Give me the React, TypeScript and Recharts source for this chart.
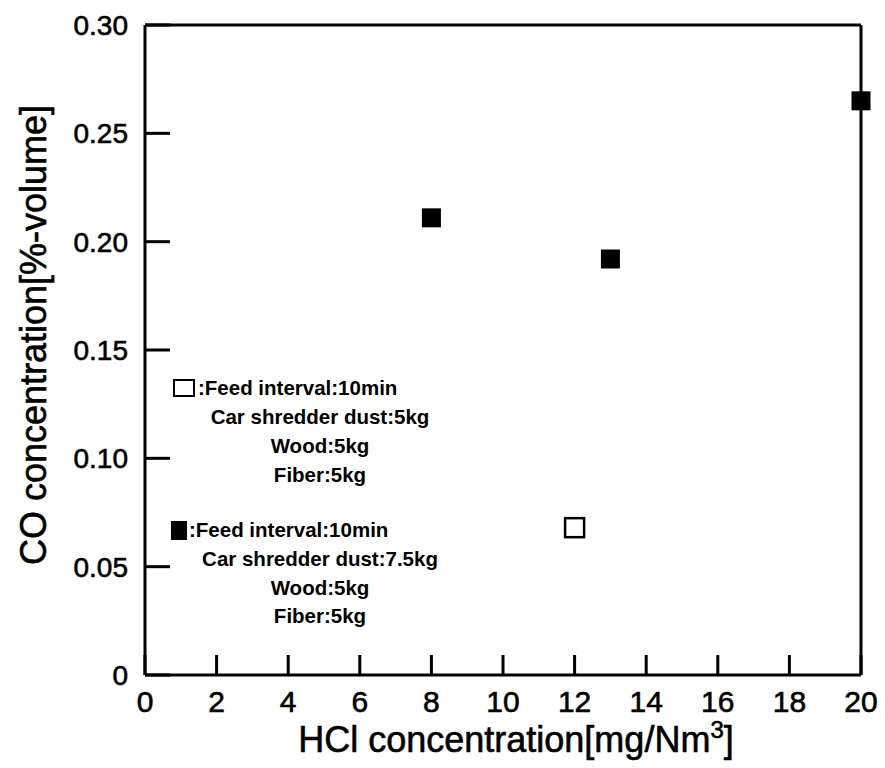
import React from "react";
import { ScatterChart, Scatter, XAxis, YAxis, Legend } from "recharts";

const xTicks = [0, 2, 4, 6, 8, 10, 12, 14, 16, 18, 20];
const yTicks = [0, 0.05, 0.1, 0.15, 0.2, 0.25, 0.3];
const yTickLabels = ["0", "0.05", "0.10", "0.15", "0.20", "0.25", "0.30"];

const openHcl = [12];
const openCo = [0.068];
const filledHcl = [8, 13, 20];
const filledCo = [0.211, 0.192, 0.265];

const openData = openHcl.map((x, i) => ({ x, y: openCo[i] }));
const filledData = filledHcl.map((x, i) => ({ x, y: filledCo[i] }));

const legendOpen = [":Feed interval:10min", "Car shredder dust:5kg", "Wood:5kg", "Fiber:5kg"];
const legendFilled = [":Feed interval:10min", "Car shredder dust:7.5kg", "Wood:5kg", "Fiber:5kg"];

const FONT = '"Liberation Sans", Arial, Helvetica, sans-serif';
const TICK_LINE = { stroke: "#000", strokeWidth: 3 };

const OpenSquare = (props: any) => {
  const { cx, cy } = props;
  const s = 19;
  return <rect x={cx - s / 2} y={cy - s / 2} width={s} height={s} fill="#fff" stroke="#000" strokeWidth={2.5} />;
};

const FilledSquare = (props: any) => {
  const { cx, cy } = props;
  const s = 19;
  return <rect x={cx - s / 2} y={cy - s / 2} width={s} height={s} fill="#000" stroke="none" />;
};

const XTick = (props: any) => {
  const { x, y, payload } = props;
  return (
    <text x={x} y={y} dy="0.71em" textAnchor="middle" fontSize={30} fontFamily={FONT} fill="#000" stroke="#000" strokeWidth={0.6}>
      {payload.value}
    </text>
  );
};

const YTick = (props: any) => {
  const { x, y, payload } = props;
  const idx = yTicks.indexOf(payload.value);
  return (
    <text x={x} y={y} dy="0.36em" textAnchor="end" fontSize={28} fontFamily={FONT} fill="#000" stroke="#000" strokeWidth={0.6}>
      {idx >= 0 ? yTickLabels[idx] : String(payload.value)}
    </text>
  );
};

const XLabel = (props: any) => {
  const vb = props.viewBox || { x: 0, y: 0, width: 0, height: 0 };
  return (
    <text x={vb.x + vb.width / 2 + 13} y={vb.y + 77} textAnchor="middle" fontSize={36} fontFamily={FONT} fill="#000" stroke="#000" strokeWidth={0.6}>
      HCl concentration[mg/Nm
      <tspan dy={-14} fontSize={24}>3</tspan>
      <tspan dy={14}>]</tspan>
    </text>
  );
};

const YLabel = (props: any) => {
  const vb = props.viewBox || { x: 0, y: 0, width: 0, height: 0 };
  const cx = 33;
  const cy = vb.y + vb.height / 2 - 15;
  return (
    <text x={cx} y={cy} transform={`rotate(-90, ${cx}, ${cy})`} textAnchor="middle" dy="0.36em" fontSize={36} fontFamily={FONT} fill="#000" stroke="#000" strokeWidth={0.6}>
      CO concentration[%-volume]
    </text>
  );
};

const lineStyle: React.CSSProperties = { height: 29, lineHeight: "29px", whiteSpace: "nowrap" };

const LegendBlock = ({ lines, filled, top }: { lines: string[]; filled: boolean; top: number }) => (
  <div style={{ position: "absolute", left: 0, top, width: 500 }}>
    <div style={{ ...lineStyle, position: "relative" }}>
      <span
        style={{
          position: "absolute",
          left: filled ? 171 : 173,
          top: 6,
          width: filled ? 16 : 22,
          height: filled ? 19 : 18,
          boxSizing: "border-box",
          background: filled ? "#000" : "#fff",
          border: filled ? "none" : "2px solid #000",
        }}
      />
      <span style={{ position: "absolute", left: filled ? 189 : 198 }}>{lines[0]}</span>
    </div>
    {lines.slice(1).map((t, i) => (
      <div key={i} style={{ ...lineStyle, position: "absolute", left: 195, width: 250, textAlign: "center", top: 29 * (i + 1) + (filled ? -0.5 * i : 0) }}>
        {t}
      </div>
    ))}
  </div>
);

const renderLegend = () => (
  <div style={{ position: "relative", width: 885, height: 768, fontFamily: FONT, fontSize: 20.5, fontWeight: "bold", color: "#000" }}>
    <LegendBlock lines={legendOpen} filled={false} top={373} />
    <LegendBlock lines={legendFilled} filled={true} top={515} />
  </div>
);

export default function App() {
  return (
    <div style={{ position: "absolute", left: 0, top: 0, width: 885, height: 768, background: "#fff" }}>
      <ScatterChart width={885} height={768} margin={{ top: 5, right: 4, bottom: 0, left: 0 }}>
        <XAxis
          xAxisId="x"
          dataKey="x"
          type="number"
          domain={[0, 20]}
          ticks={xTicks}
          interval={0}
          height={93}
          stroke="#000"
          strokeWidth={3}
          tickLine={TICK_LINE}
          tickSize={-20}
          tickMargin={36}
          tick={<XTick />}
          label={<XLabel />}
        />
        <XAxis
          xAxisId="top"
          orientation="top"
          type="number"
          domain={[0, 20]}
          ticks={xTicks}
          interval={0}
          height={20}
          stroke="#000"
          strokeWidth={3}
          tickLine={TICK_LINE}
          tickSize={-20}
          tick={false}
        />
        <YAxis
          yAxisId="y"
          dataKey="y"
          type="number"
          domain={[0, 0.3]}
          ticks={yTicks}
          interval={0}
          width={145}
          stroke="#000"
          strokeWidth={3}
          tickLine={TICK_LINE}
          tickSize={-25}
          tickMargin={42}
          tick={<YTick />}
          label={<YLabel />}
        />
        <YAxis
          yAxisId="right"
          orientation="right"
          type="number"
          domain={[0, 0.3]}
          ticks={yTicks}
          interval={0}
          width={20}
          stroke="#000"
          strokeWidth={3}
          tickLine={TICK_LINE}
          tickSize={-25}
          tick={false}
        />
        <Legend content={renderLegend} verticalAlign="middle" align="center" wrapperStyle={{ left: 0, top: 0, width: 885, height: 768, pointerEvents: "none" }} />
        <Scatter name="open" data={openData} xAxisId="x" yAxisId="y" shape={OpenSquare} isAnimationActive={false} />
        <Scatter name="filled" data={filledData} xAxisId="x" yAxisId="y" shape={FilledSquare} isAnimationActive={false} />
      </ScatterChart>
    </div>
  );
}
